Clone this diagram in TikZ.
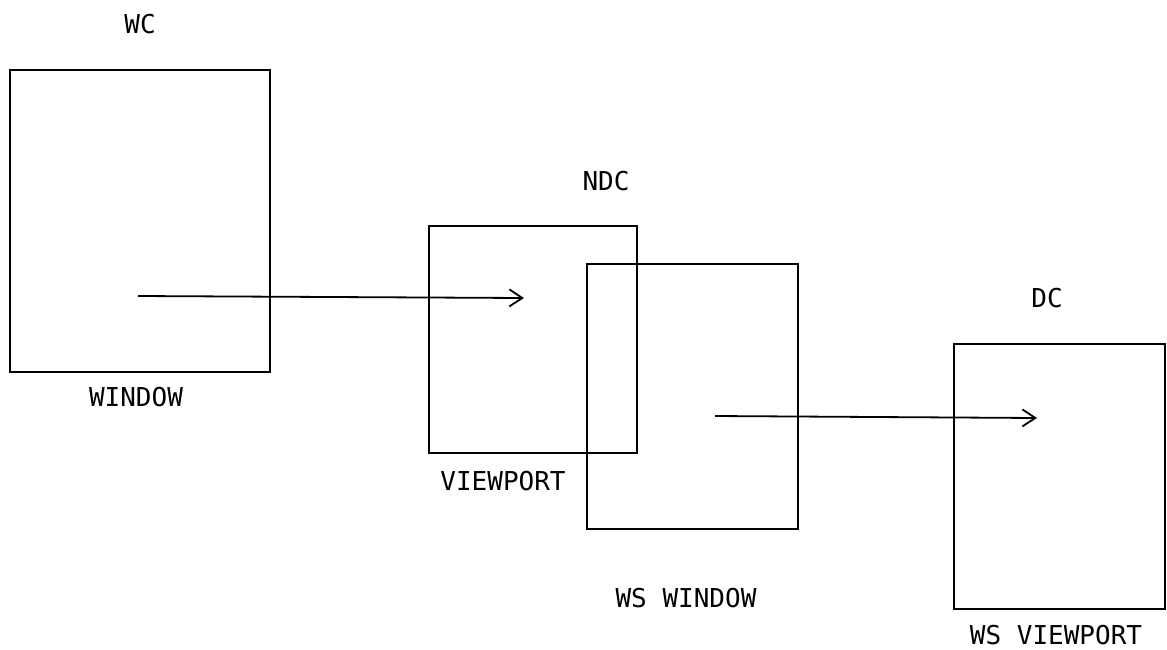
\documentclass[tikz,border=0pt]{standalone}
\usepackage{fontspec}
\setmonofont{DejaVu Sans Mono}
\usetikzlibrary{arrows.meta}
\begin{document}
\begin{tikzpicture}[x=1pt,y=-1pt,
  frame/.style={draw, line width=1.8pt, inner sep=0pt, anchor=north west},
  lbl/.style={font=\ttfamily\fontsize{26}{28}\selectfont, inner sep=0pt, text height=18pt, text depth=0pt},
  map/.style={line width=1.8pt, -{Straight Barb[length=13pt,width=17pt,line width=1.8pt]}}]
\useasboundingbox (0,0) rectangle (1167,649);
% boxes
\node[frame, minimum width=260pt, minimum height=302pt] (win) at (9,69) {};
\node[frame, minimum width=208pt, minimum height=227pt] (vp) at (428,225) {};
\node[frame, minimum width=211pt, minimum height=265pt] (wsw) at (586,263) {};
\node[frame, minimum width=211pt, minimum height=265pt] (wsv) at (953,343) {};
% labels
\node[lbl] (wc) at (140,24) {WC};
\node[lbl] (winl) at (136,397) {WINDOW};
\node[lbl] (ndc) at (606,181) {NDC};
\node[lbl] (vpl) at (503,481) {VIEWPORT};
\node[lbl] (wswl) at (686,598) {WS WINDOW};
\node[lbl] (dc) at (1047,298) {DC};
\node[lbl] (wsvl) at (1056,635) {WS VIEWPORT};
% mapping arrows
\coordinate (a1) at (138,296);
\coordinate (b1) at (524,298);
\coordinate (a2) at (715,416);
\coordinate (b2) at (1037,418);
\draw[map] (a1) -- (b1);
\draw[map] (a2) -- (b2);
\end{tikzpicture}
\end{document}
